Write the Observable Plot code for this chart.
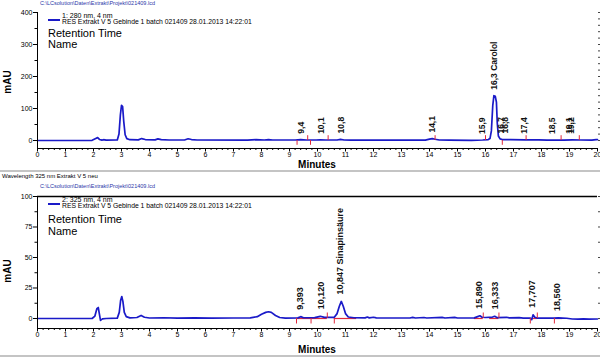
<!DOCTYPE html>
<html><head><meta charset="utf-8">
<script src="https://cdn.jsdelivr.net/npm/d3@7"></script>
<script src="https://cdn.jsdelivr.net/npm/@observablehq/plot@0.6"></script>
<style>
body{margin:0;background:#fff;font-family:"Liberation Sans",Arial,sans-serif;}
#wrap{position:relative;width:600px;height:358px;overflow:hidden;background:#fff}
#wrap svg{position:absolute;left:0}
.t{position:absolute;white-space:nowrap;line-height:1;color:#000}
.b{color:#2a36a8}
.hr{position:absolute;left:0;width:600px;height:2px;background:#c4c4c4}
.lg{position:absolute;height:2px;background:#1a1ac8}
</style></head><body><div id="wrap"></div>
<script>
// ---- data ----
const xTicks = [0,1,2,3,4,5,6,7,8,9,10,11,12,13,14,15,16,17,18,19,20];
const yTicks280 = [0,100,200,300,400];
const yTicks325 = [0,25,50,75,100];

// 280 nm trace: [minutes, mAU]
const trace280 = [
 [0,0],[1.95,0.5],[2.08,6],[2.15,9],[2.22,3],[2.3,1],[2.36,2.5],[2.45,1],
 [2.85,1.5],[2.91,20],[2.96,80],[3.0,110],[3.04,106],[3.08,60],[3.13,18],[3.19,6],[3.3,2.5],
 [3.6,2],[3.72,6],[3.85,3],[4.2,2],[4.3,5],[4.42,2.5],[4.7,1.5],[5.25,1.5],[5.38,5.5],[5.5,3],[5.7,1.5],
 [7.5,1.2],[7.8,2.5],[8.1,1.5],[8.25,2.5],[8.4,1.5],[9.2,1.5],[9.4,2.5],[9.6,1.5],[9.95,1.5],[10.1,2],[10.3,1.5],
 [10.7,1.5],[10.82,3.5],[10.95,1.5],[11.2,1],[13.85,1],[14.0,4.5],[14.1,6],[14.2,4],[14.35,1.5],[14.7,1],
 [15.5,0.5],[15.9,1.5],[16.1,3],[16.16,6],[16.21,30],[16.26,110],[16.3,140],[16.35,138],[16.39,120],[16.42,55],
 [16.46,14],[16.52,5],[16.6,3],[16.9,2.5],[17.4,2],[17.9,2],[18.2,1],[18.5,1.5],[18.8,1],[19.1,2],[19.4,1.5],
 [19.8,1],[19.95,2.5],[20,3]
];
const peakLabels280 = ["9,4","10,1","10,8","14,1","15,9","16,3 Carolol","16,7","16,8","17,4","18,5","19,1","19,2"];
const peakTimes280  = [9.42,10.13,10.86,14.1,15.88,16.33,16.56,16.71,17.4,18.4,19.0,19.06];
const peakHeights280= [2.5,2,3.5,6,1.5,140,3,3,2,1.5,2,2];
const intgTimes280 = [9.27,9.65,9.75,10.38,14.2,16.0,16.6,17.45,18.7,19.35];
const intgDirs280  = [-1,1,-1,1,1,1,-1,1,1,1];

// 325 nm trace: [minutes, mAU]
const trace325 = [
 [0,0],[1.95,0],[2.05,2],[2.12,8],[2.17,9],[2.2,5],[2.25,-1.5],[2.32,-0.3],[2.45,0],
 [2.85,0.3],[2.92,5],[2.97,15],[3.01,18],[3.05,14],[3.1,5],[3.17,1.5],[3.3,0.5],
 [3.55,0.8],[3.7,2.5],[3.82,1],[4.0,0.4],[4.5,0.6],[5.0,0.3],[5.6,0.5],[6.2,0.3],[7.0,0.4],[7.6,0.5],
 [7.85,1.5],[8.0,3.5],[8.15,5],[8.25,5.5],[8.35,5],[8.5,2.5],[8.65,0.8],[8.85,0.3],
 [9.3,0.5],[9.4,1.5],[9.5,0.6],[9.9,0.7],[10.1,1.8],[10.25,0.9],[10.6,1],[10.7,4],[10.78,10],[10.85,14],
 [10.92,10],[11.0,4],[11.1,1.2],[11.3,0.6],[11.7,0.5],[11.78,1.2],[11.85,0.5],[12.0,1],[12.1,0.5],
 [13.3,0.4],[13.4,0.9],[13.5,0.4],[13.8,0.8],[13.9,0.4],[14.45,0.9],[14.55,0.4],[14.9,0.9],[15.0,0.4],
 [15.6,0.5],[15.72,1.5],[15.8,2.2],[15.88,1],[16.0,0.8],[16.25,1.2],[16.33,1.8],[16.42,0.7],[16.75,1],
 [16.85,0.5],[17.2,0.7],[17.35,0.3],[17.6,0.3],[17.65,-1],[17.7,3],[17.76,1],[17.85,0.3],[18.45,0.3],
 [18.6,0.5],[18.9,0.2],[19.1,-0.4],[19.3,-0.5],[19.5,-0.3],[19.7,-0.5],[20,-0.4]
];
const peakLabels325 = ["9,393","10,120","10,847 Sinapinsäure","15,890","16,333","17,707","18,560"];
const peakTimes325  = [9.39,10.13,10.82,15.78,16.33,17.68,18.54];
const peakHeights325= [1.5,1.8,14,2.2,1.8,3,0.5];
const intgTimes325 = [9.25,9.77,10.35,10.6,15.92,16.48,17.6,17.85,18.46];
const intgDirs325  = [-1,-1,1,-1,1,1,-1,1,-1];
const baseSegs325 = [[9.25,10.35],[10.6,11.4],[15.6,15.92],[16.15,16.48],[17.6,17.85],[18.46,18.75]];

// ---- drawing ----
const FONT = '"Liberation Sans", Arial, sans-serif';
const BLUE = "#1a1ac8", RED = "#e0283c";
const minorX = d3.range(0, 20.001, 0.2);

function panel(c) {
  const pts = c.trace.map(([t, v]) => ({t, v}));
  const labs = c.labels.map((s, i) => ({s, t: c.times[i], h: c.heights[i]}));
  const ints = c.intg.map((t, i) => ({t, d: c.dirs[i]}));
  const [y0, y1] = c.yDomain;
  return Plot.plot({
    width: 600, height: c.height,
    marginLeft: 37, marginRight: 3, marginTop: c.mt, marginBottom: c.mb,
    x: {domain: [0, 20]},
    y: {domain: c.yDomain},
    style: {fontFamily: FONT, fontSize: "7px", color: "#000", background: "none", overflow: "visible"},
    marks: [
      c.frameTop ? Plot.ruleY([y1], {stroke: "#000", strokeWidth: 1.3}) : null,
      Plot.ruleY(c.segs, {y: 0, x1: d => d[0], x2: d => d[1], stroke: RED, strokeWidth: 1.2}),
      Plot.line(pts, {x: "t", y: "v", stroke: BLUE, strokeWidth: 1.7}),
      Plot.ruleX(ints, {x: "t", y1: 0, y2: d => d.d * c.markLen, stroke: RED, strokeWidth: 1}),
      Plot.ruleY([y0], {stroke: "#000", strokeWidth: 1}),
      Plot.ruleX([0], {stroke: "#000", strokeWidth: 1}),
      Plot.axisX({ticks: minorX, tickSize: 2, tickFormat: () => "", label: null}),
      Plot.axisX({ticks: xTicks, tickSize: 3.5, tickPadding: 0.5, fontSize: 7, label: null}),
      Plot.axisY({ticks: c.yTicks, tickSize: 4, tickPadding: 1, fontSize: 7, label: null}),
      Plot.axisY({ticks: c.yMinor, tickSize: 2.5, tickFormat: () => "", label: null}),
      Plot.axisY({anchor: "right", ticks: c.yRight, tickSize: 2, tickFormat: () => "", label: null, stroke: "#444"}),
      Plot.text(labs, {x: "t", y: "h", text: "s", rotate: -90, textAnchor: "start", dy: c.labelDy,
        fontSize: c.labelSize, fontWeight: "bold", fill: "#111"})
    ]
  });
}

const wrap = document.getElementById("wrap");

const p1 = panel({
  trace: trace280, labels: peakLabels280, times: peakTimes280, heights: peakHeights280,
  intg: intgTimes280, dirs: intgDirs280, segs: [], markLen: 15,
  yDomain: [-25, 400], yTicks: yTicks280, yMinor: d3.range(50, 400, 100), yRight: d3.range(0, 401, 20),
  height: 170, mt: 12, mb: 22, labelDy: -6, labelSize: 8.5, frameTop: false
});
p1.style.top = "0px";
wrap.appendChild(p1);

const p2 = panel({
  trace: trace325, labels: peakLabels325, times: peakTimes325, heights: peakHeights325,
  intg: intgTimes325, dirs: intgDirs325, segs: baseSegs325, markLen: 4.5,
  yDomain: [-8.2, 100], yTicks: yTicks325, yMinor: d3.range(12.5, 100, 25), yRight: d3.range(0, 101, 12.5),
  height: 186, mt: 24, mb: 30, labelDy: -7, labelSize: 9, frameTop: true
});
p2.style.top = "172px";
wrap.appendChild(p2);

function txt(s, x, y, size, cls, extra) {
  const d = document.createElement("div");
  d.className = "t " + (cls || "");
  d.textContent = s;
  d.style.left = x + "px"; d.style.top = y + "px"; d.style.fontSize = size + "px";
  if (extra) Object.assign(d.style, extra);
  wrap.appendChild(d);
  return d;
}
function box(cls, x, y, w) {
  const d = document.createElement("div");
  d.className = cls; d.style.left = x + "px"; d.style.top = y + "px";
  if (w) d.style.width = w + "px";
  wrap.appendChild(d);
}

// top panel texts
txt("C:\\LCsolution\\Daten\\Extrakt\\Projekt\\021409.lcd", 40, 1, 5.5, "b");
box("lg", 48, 19, 12);
txt("1: 280 nm, 4 nm", 62, 11.5, 7);
txt("RES Extrakt V 5 Gebinde 1 batch 021409 28.01.2013 14:22:01", 62, 19, 6.8);
txt("Retention Time", 48, 28, 11);
txt("Name", 48, 38.5, 11);
txt("mAU", 8, 82, 10, "", {transform: "translate(-50%,-50%) rotate(-90deg)", fontWeight: "bold"});
txt("Minutes", 317, 160, 10, "", {transform: "translateX(-50%)", fontWeight: "bold"});

box("hr", 0, 170);

// bottom panel texts
txt("Wavelength 325 nm Extrakt V 5 neu", 2, 173, 6);
txt("C:\\LCsolution\\Daten\\Extrakt\\Projekt\\021409.lcd", 40, 184, 5.5, "b");
box("lg", 48, 203, 12);
txt("2: 325 nm, 4 nm", 62, 195.5, 7);
txt("RES Extrakt V 5 Gebinde 1 batch 021409 28.01.2013 14:22:01", 62, 203, 6.8);
txt("Retention Time", 48, 213.5, 11);
txt("Name", 48, 226, 11);
txt("mAU", 8, 271, 10, "", {transform: "translate(-50%,-50%) rotate(-90deg)", fontWeight: "bold"});
txt("Minutes", 317, 345, 10, "", {transform: "translateX(-50%)", fontWeight: "bold"});

box("hr", 0, 355);
</script></body></html>
